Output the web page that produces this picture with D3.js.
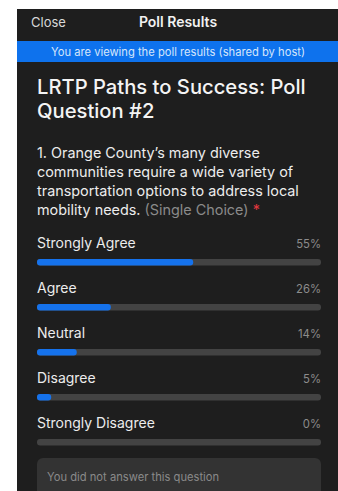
<!DOCTYPE html>
<html>
<head>
<meta charset="utf-8">
<script src="https://cdn.jsdelivr.net/npm/d3@7"></script>
<style>
  html, body { margin: 0; padding: 0; background: #fff; }
  svg { display: block; font-family: Inter, "Noto Sans", sans-serif; }
</style>
</head>
<body>
<svg width="338" height="491"></svg>
<script>
const choices = ["Strongly Agree", "Agree", "Neutral", "Disagree", "Strongly Disagree"];
const percents = [55, 26, 14, 5, 0];
const questionLines = [
  "1. Orange County\u2019s many diverse",
  "communities require a wide variety of",
  "transportation options to address local",
  "mobility needs."
];
const titleLines = ["LRTP Paths to Success: Poll", "Question #2"];

const svg = d3.select("svg");
const W = 338, H = 491;

// dark phone panel
svg.append("rect").attr("x", 17).attr("y", 9).attr("width", W - 17).attr("height", H - 9)
  .attr("fill", "#1e1e1e");

// header
svg.append("text").attr("x", 31).attr("y", 27).attr("fill", "#d8d8d8")
  .style("font-size", "13px").text("Close");
svg.append("text").attr("x", 178).attr("y", 27).attr("text-anchor", "middle")
  .attr("fill", "#f2f2f2").style("font-size", "14px").style("font-weight", 600)
  .text("Poll Results");

// blue banner
svg.append("rect").attr("x", 17).attr("y", 41).attr("width", W - 17).attr("height", 21)
  .attr("fill", "#0e72ed");
svg.append("text").attr("x", 178).attr("y", 55.5).attr("text-anchor", "middle")
  .attr("fill", "#d6e6fb").style("font-size", "11.2px")
  .text("You are viewing the poll results (shared by host)");

// title
svg.append("g").selectAll("text").data(titleLines).join("text")
  .attr("x", 37).attr("y", (d, i) => 94 + i * 24)
  .attr("fill", "#f4f4f4").style("font-size", "20.2px").style("font-weight", 500)
  .text(d => d);

// question
const q = svg.append("g").selectAll("text").data(questionLines).join("text")
  .attr("x", 37).attr("y", (d, i) => 158 + i * 19)
  .attr("fill", "#ececec").style("font-size", "14.4px")
  .text(d => d);
q.filter((d, i) => i === questionLines.length - 1).each(function () {
  const t = d3.select(this);
  t.append("tspan").attr("fill", "#8a8a8a").text(" (Single Choice) ");
  t.append("tspan").attr("fill", "#e0383e").text("*");
});

// results
const x = d3.scaleLinear().domain([0, 100]).range([37, 321]);
const y = d3.scalePoint().domain(choices).range([248, 428]);

const rows = svg.append("g").selectAll("g").data(choices).join("g")
  .attr("transform", d => `translate(0,${y(d)})`);

rows.append("text").attr("x", x(0)).attr("y", 0)
  .attr("fill", "#ececec").style("font-size", "14px").text(d => d);
rows.append("text").attr("x", x(100)).attr("y", 0).attr("text-anchor", "end")
  .attr("fill", "#8c8c8c").style("font-size", "11.3px")
  .text((d, i) => percents[i] + "%");

rows.append("rect").attr("x", x(0)).attr("y", 11)
  .attr("width", x(100) - x(0)).attr("height", 6.5).attr("rx", 3)
  .attr("fill", "#434343");
rows.append("rect").attr("x", x(0)).attr("y", 11)
  .attr("width", (d, i) => x(percents[i]) - x(0)).attr("height", 6.5).attr("rx", 3)
  .attr("fill", "#1572ec");

// footer note
svg.append("rect").attr("x", 37).attr("y", 458).attr("width", 284).attr("height", 50)
  .attr("rx", 6).attr("fill", "#333333");
svg.append("text").attr("x", 47).attr("y", 481).attr("fill", "#8a8a8a")
  .style("font-size", "11.2px").text("You did not answer this question");
</script>
</body>
</html>
